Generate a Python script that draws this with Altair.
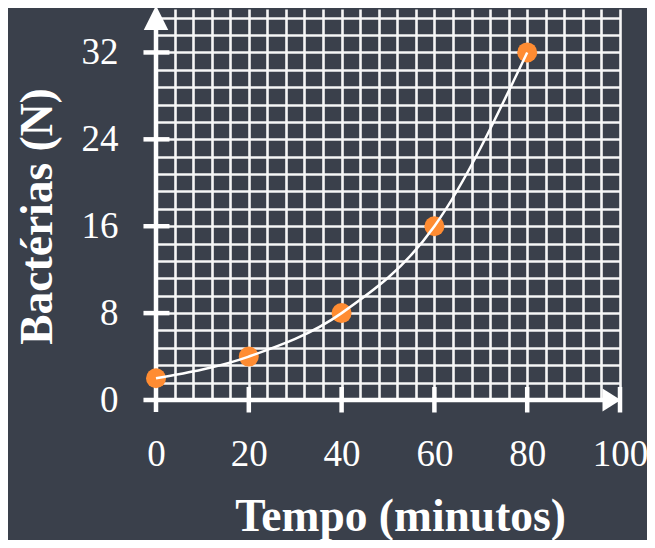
import altair as alt
import pandas as pd

# ---- data ----
minutes = [0, 20, 40, 60, 80]
bacteria = [2, 4, 8, 16, 32]

# grid and label positions
x_grid_values = list(range(0, 101, 4))
y_grid_values = [round(1.6 * i, 1) for i in range(23)]
x_tick_marks = [20, 40, 60, 80, 100]
y_tick_marks = [8, 16, 24, 32]

# axis lines / arrowheads (data units)
axis_x0 = [0, -2.7]
axis_x1 = [0, 97.6]
axis_y0 = [-1.1, 0]
axis_y1 = [34.8, 0]
arrow_x = [0, 98.2]
arrow_y = [35.2, 0]
arrow_shape = ["M-1,1L0,-1L1,1Z", "M-0.8,-1L0.8,0L-0.8,1Z"]
arrow_size = [600, 520]

BG = "#3a404b"
WHITE = "#ffffff"
GRID = "#f6f6f6"
ORANGE = "#ff8c32"
FONT = "Liberation Serif"

pts = pd.DataFrame({"x": minutes, "y": bacteria})
axes_df = pd.DataFrame({"x": axis_x0, "x2": axis_x1, "y": axis_y0, "y2": axis_y1})
xt_df = pd.DataFrame({"x": x_tick_marks, "y": [-1.15] * len(x_tick_marks), "y2": [1.2] * len(x_tick_marks)})
yt_df = pd.DataFrame({"y": y_tick_marks, "x": [-2.7] * len(y_tick_marks), "x2": [2.9] * len(y_tick_marks)})
arr_df = pd.DataFrame({"x": arrow_x, "y": arrow_y, "shape": arrow_shape, "size": arrow_size})

xscale = alt.Scale(domain=[0, 100], nice=False, zero=False)
yscale = alt.Scale(domain=[0, 36], nice=False, zero=False)

x_axis = alt.Axis(
    values=x_grid_values,
    labelExpr="datum.value % 20 == 0 ? format(datum.value, 'd') : ''",
    grid=True, gridColor=GRID, gridWidth=2.6, gridOpacity=1,
    domain=False, ticks=False,
    labelFont=FONT, labelFontSize=37, labelColor=WHITE, labelPadding=36,
    labelFlush=False, labelOverlap=False,
    title="Tempo (minutos)", titleFont=FONT, titleFontSize=45.5, titleFontWeight="bold",
    titleColor=WHITE, titleX=244, titleY=130, titleBaseline="alphabetic",
)
y_axis = alt.Axis(
    values=y_grid_values,
    labelExpr="abs(datum.value % 8) < 0.01 ? format(datum.value, 'd') : ''",
    grid=True, gridColor=GRID, gridWidth=2.6, gridOpacity=1,
    domain=False, ticks=False,
    labelFont=FONT, labelFontSize=37, labelColor=WHITE, labelPadding=38,
    labelFlush=False, labelOverlap=False, labelBaseline="middle",
    title="Bactérias (N)", titleFont=FONT, titleFontSize=45.5, titleFontWeight="bold",
    titleColor=WHITE, titleX=-119, titleY=207, titleBaseline="middle", titleAngle=-90,
)


def X(field="x"):
    return alt.X(f"{field}:Q", scale=xscale, axis=x_axis)


def Y(field="y"):
    return alt.Y(f"{field}:Q", scale=yscale, axis=y_axis)


rule_style = dict(color=WHITE, strokeWidth=4.5, strokeCap="butt")

axis_lines = alt.Chart(axes_df).mark_rule(**rule_style).encode(
    x=X(), x2="x2:Q", y=Y(), y2="y2:Q"
)
x_ticks = alt.Chart(xt_df).mark_rule(**rule_style).encode(
    x=X(), y=Y(), y2="y2:Q"
)
y_ticks = alt.Chart(yt_df).mark_rule(**rule_style).encode(
    x=X(), x2="x2:Q", y=Y()
)
arrows = alt.Chart(arr_df).mark_point(filled=True, color=WHITE, fill=WHITE, opacity=1, fillOpacity=1, strokeWidth=0).encode(
    x=X(), y=Y(),
    shape=alt.Shape("shape:N", scale=None, legend=None),
    size=alt.Size("size:Q", scale=None, legend=None),
)
points = alt.Chart(pts).mark_circle(color=ORANGE, opacity=1, size=400).encode(
    x=X(), y=Y()
)
curve = alt.Chart(pts).mark_line(color=WHITE, strokeWidth=2.5, interpolate="monotone").encode(
    x=X(), y=Y()
)

chart = alt.layer(axis_lines, x_ticks, y_ticks, arrows, points, curve).properties(
    width=464,
    height=391,
    background=BG,
    padding={"left": 148, "top": 1, "right": 27, "bottom": 140},
    autosize=alt.AutoSizeParams(type="none"),
).configure_view(strokeWidth=0)

chart.save("out.html", embed_options={"renderer": "svg", "actions": False})
